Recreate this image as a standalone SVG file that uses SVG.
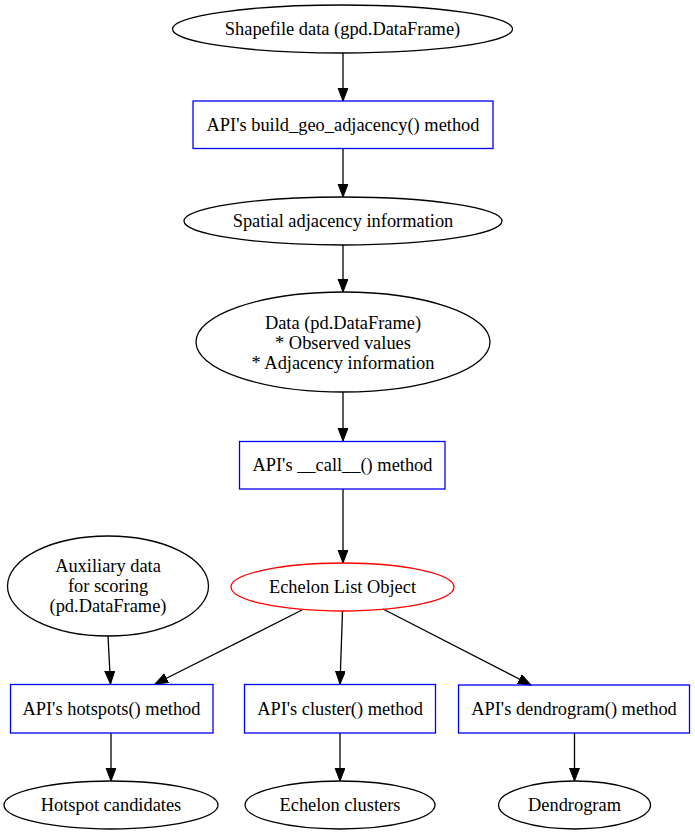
<svg xmlns="http://www.w3.org/2000/svg" width="695" height="835" viewBox="0 0 695 835">
<style>
text{font-family:"Liberation Serif","Times New Roman",serif;font-size:18.4px;fill:#000;text-anchor:middle}
.e{fill:none;stroke:#000;stroke-width:1.3}
.r{fill:none;stroke:#0000ff;stroke-width:1.3}
.red{fill:none;stroke:#ff0000;stroke-width:1.3}
.c line{stroke:#000;stroke-width:1.3;marker-end:url(#ah)}
</style>
<defs>
<marker id="ah" markerUnits="userSpaceOnUse" markerWidth="14" markerHeight="12" refX="13" refY="5" orient="auto">
<path d="M0,0 L13,5 L0,10 Z" fill="#000" stroke="#000" stroke-width="1"/>
</marker>
</defs>
<rect width="695" height="835" fill="#fff"/>
<g class="c" id="connectors">
<line x1="343" y1="53" x2="343" y2="101"/>
<line x1="343" y1="149" x2="343" y2="197"/>
<line x1="343" y1="245" x2="343" y2="292"/>
<line x1="343" y1="392" x2="343" y2="441"/>
<line x1="343" y1="489" x2="343" y2="563"/>
<line x1="108" y1="636" x2="110.5" y2="684"/>
<line x1="302" y1="610" x2="155" y2="684"/>
<line x1="342.5" y1="611" x2="340" y2="684"/>
<line x1="383" y1="609" x2="531" y2="685"/>
<line x1="111" y1="733" x2="111" y2="781"/>
<line x1="340" y1="733" x2="340" y2="781"/>
<line x1="574.5" y1="733" x2="574.5" y2="781"/>
</g>
<g id="shapefile"><ellipse class="e" cx="342.5" cy="29" rx="170" ry="24"/><text x="342.5" y="35">Shapefile data (gpd.DataFrame)</text></g>
<g id="build_geo"><rect class="r" x="193" y="101" width="300" height="47.5"/><text x="343" y="130.5">API's build_geo_adjacency() method</text></g>
<g id="spatial"><ellipse class="e" cx="343" cy="221" rx="159" ry="24"/><text x="343" y="227">Spatial adjacency information</text></g>
<g id="data"><ellipse class="e" cx="343" cy="342" rx="147" ry="50"/><text x="343" y="329">Data (pd.DataFrame)</text><text x="343" y="349">* Observed values</text><text x="343" y="369">* Adjacency information</text></g>
<g id="call"><rect class="r" x="239.5" y="441.5" width="205.5" height="47.5"/><text x="342.5" y="471">API's __call__() method</text></g>
<g id="echelon"><ellipse class="red" cx="342.5" cy="587" rx="111.5" ry="24"/><text x="342.5" y="593">Echelon List Object</text></g>
<g id="aux"><ellipse class="e" cx="108" cy="586" rx="100.5" ry="50"/><text x="108" y="572">Auxiliary data</text><text x="108" y="592">for scoring</text><text x="108" y="612">(pd.DataFrame)</text></g>
<g id="hotspots"><rect class="r" x="10.5" y="684.5" width="202.5" height="48.5"/><text x="111.5" y="715">API's hotspots() method</text></g>
<g id="cluster"><rect class="r" x="244.5" y="684.5" width="191" height="48.5"/><text x="340" y="715">API's cluster() method</text></g>
<g id="dendro"><rect class="r" x="458.5" y="685" width="231" height="48"/><text x="574" y="715">API's dendrogram() method</text></g>
<g id="hotcand"><ellipse class="e" cx="111" cy="805" rx="107" ry="24"/><text x="111" y="811">Hotspot candidates</text></g>
<g id="clusters"><ellipse class="e" cx="340" cy="805" rx="95" ry="24"/><text x="340" y="811">Echelon clusters</text></g>
<g id="dendrogram"><ellipse class="e" cx="574.5" cy="805" rx="76" ry="24"/><text x="574.5" y="811">Dendrogram</text></g>
</svg>
